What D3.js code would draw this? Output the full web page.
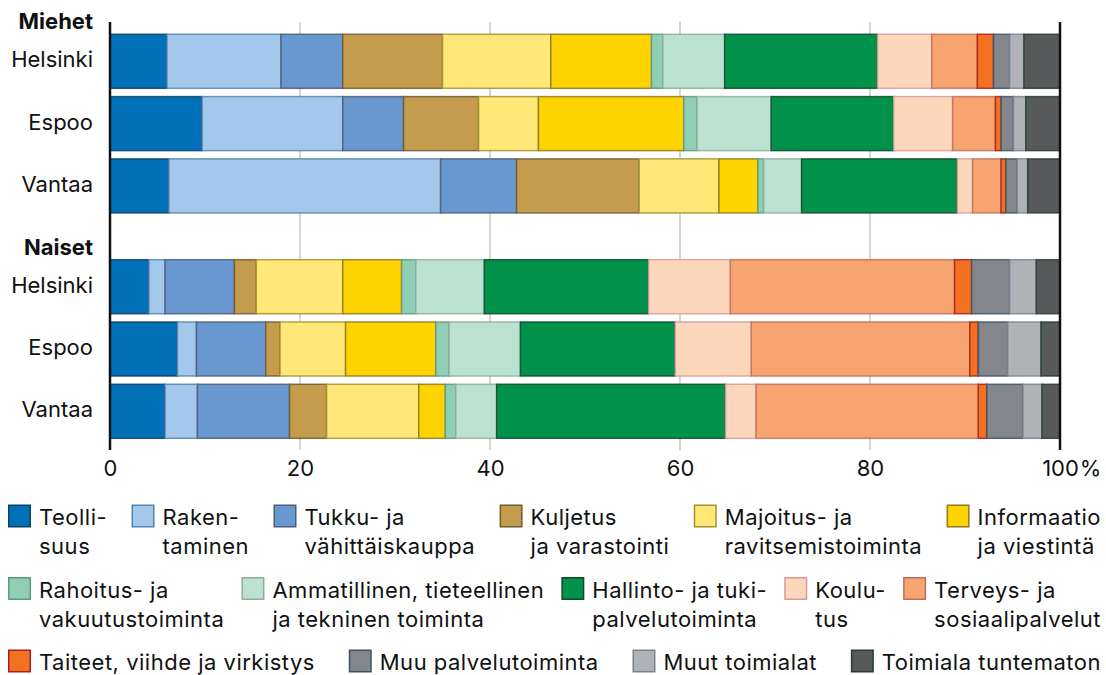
<!DOCTYPE html>
<html lang="fi">
<head>
<meta charset="utf-8">
<script src="https://cdn.jsdelivr.net/npm/d3@7"></script>
<style>
  html, body { margin: 0; padding: 0; background: #fff; }
  svg { display: block; font-family: Inter, Roboto, sans-serif; }
</style>
</head>
<body>
<svg id="chart" width="1106" height="675"></svg>
<script>
// Toimialat (industries), in stacking order
const categories = [
  "Teollisuus", "Rakentaminen", "Tukku- ja vähittäiskauppa", "Kuljetus ja varastointi",
  "Majoitus- ja ravitsemistoiminta", "Informaatio ja viestintä", "Rahoitus- ja vakuutustoiminta",
  "Ammatillinen, tieteellinen ja tekninen toiminta", "Hallinto- ja tukipalvelutoiminta",
  "Koulutus", "Terveys- ja sosiaalipalvelut", "Taiteet, viihde ja virkistys",
  "Muu palvelutoiminta", "Muut toimialat", "Toimiala tuntematon"
];

// Legend labels, broken into lines
const legendLines = [
  ["Teolli-", "suus"], ["Raken-", "taminen"], ["Tukku- ja", "vähittäiskauppa"],
  ["Kuljetus", "ja varastointi"], ["Majoitus- ja", "ravitsemistoiminta"], ["Informaatio", "ja viestintä"],
  ["Rahoitus- ja", "vakuutustoiminta"], ["Ammatillinen, tieteellinen", "ja tekninen toiminta"],
  ["Hallinto- ja tuki-", "palvelutoiminta"], ["Koulu-", "tus"], ["Terveys- ja", "sosiaalipalvelut"],
  ["Taiteet, viihde ja virkistys"], ["Muu palvelutoiminta"], ["Muut toimialat"], ["Toimiala tuntematon"]
];
const legendRowBreaks = [6, 11]; // legend rows start at these item indexes

const groups = ["Miehet", "Naiset"];
const cities = ["Helsinki", "Espoo", "Vantaa"];

// Shares (%) of each industry, per city
const miehetHelsinki = [6.0, 12.0, 6.5, 10.5, 11.4, 10.6, 1.2, 6.5, 16.1, 5.7, 4.8, 1.7, 1.7, 1.5, 3.8];
const miehetEspoo    = [9.7, 14.8, 6.4, 7.9, 6.3, 15.3, 1.4, 7.8, 12.9, 6.2, 4.5, 0.6, 1.3, 1.3, 3.6];
const miehetVantaa   = [6.2, 28.6, 8.0, 12.9, 8.4, 4.1, 0.6, 4.0, 16.4, 1.6, 3.0, 0.5, 1.2, 1.1, 3.4];
const naisetHelsinki = [4.1, 1.7, 7.3, 2.3, 9.1, 6.2, 1.5, 7.2, 17.3, 8.6, 23.6, 1.8, 4.0, 2.8, 2.5];
const naisetEspoo    = [7.1, 2.0, 7.3, 1.5, 6.9, 9.5, 1.4, 7.5, 16.3, 8.0, 23.0, 0.9, 3.1, 3.5, 2.0];
const naisetVantaa   = [5.8, 3.4, 9.7, 3.9, 9.7, 2.8, 1.1, 4.3, 24.1, 3.2, 23.4, 0.9, 3.8, 2.0, 1.9];

const tickValues = [0, 20, 40, 60, 80, 100];
const tickLabels = ["0", "20", "40", "60", "80", "100"];

const fills = ["#0070b9", "#a3c8eb", "#6898cf", "#c59b4e", "#ffe878", "#ffd300", "#90cfb4",
               "#bbe1d1", "#00914a", "#fdd7bc", "#f8a470", "#f37022", "#83878b", "#b0b3b6", "#58595b"];
const strokes = ["#12405e", "#5585ad", "#4c5d72", "#6e5a33", "#a39231", "#8c7a1f", "#5e9a82",
                 "#8fae9f", "#124a2a", "#d69b99", "#c0705f", "#a4221c", "#3b5466", "#76838f", "#24402e"];

const table = [
  { group: "Miehet", city: "Helsinki", values: miehetHelsinki },
  { group: "Miehet", city: "Espoo",    values: miehetEspoo },
  { group: "Miehet", city: "Vantaa",   values: miehetVantaa },
  { group: "Naiset", city: "Helsinki", values: naisetHelsinki },
  { group: "Naiset", city: "Espoo",    values: naisetEspoo },
  { group: "Naiset", city: "Vantaa",   values: naisetVantaa }
].map(r => {
  const o = { group: r.group, city: r.city };
  categories.forEach((c, i) => { o[c] = r.values[i]; });
  return o;
});

const svg = d3.select("#chart");
const FONT = 22;

const x = d3.scaleLinear().domain([0, 100]).range([110, 1060]);
const yGroup = d3.scaleBand().domain(groups).range([34.3, 438.3]).paddingInner(0.2076);
const yCity = d3.scaleBand().domain(cities).range([0, yGroup.bandwidth()]).paddingInner(0.133);
const color = d3.scaleOrdinal().domain(categories).range(fills);
const stroke = d3.scaleOrdinal().domain(categories).range(strokes);

const gridTop = 22, gridBottom = 450;

// light grid lines
svg.append("g").selectAll("line")
  .data(tickValues.filter(v => v !== 0 && v !== 100))
  .join("line")
  .attr("x1", d => x(d)).attr("x2", d => x(d))
  .attr("y1", gridTop).attr("y2", gridBottom)
  .attr("stroke", "#c9c9c9").attr("stroke-width", 1.5);

// stacked bars
const series = d3.stack().keys(categories)(table);
svg.append("g").selectAll("g")
  .data(series)
  .join("g")
  .attr("fill", d => color(d.key))
  .attr("stroke", d => stroke(d.key))
  .attr("stroke-width", 1.5)
  .attr("stroke-opacity", 0.85)
  .selectAll("rect")
  .data(d => d)
  .join("rect")
  .attr("x", d => x(d[0]))
  .attr("width", d => x(d[1]) - x(d[0]))
  .attr("y", d => yGroup(d.data.group) + yCity(d.data.city))
  .attr("height", yCity.bandwidth());

// 0 and 100 % frame lines
svg.append("g").selectAll("line")
  .data([0, 100])
  .join("line")
  .attr("x1", d => x(d)).attr("x2", d => x(d))
  .attr("y1", gridTop).attr("y2", gridBottom)
  .attr("stroke", "#111").attr("stroke-width", 2.5);

// group headings
svg.append("g").selectAll("text")
  .data(groups)
  .join("text")
  .attr("x", 93)
  .attr("y", d => yGroup(d) - 5)
  .attr("text-anchor", "end")
  .attr("font-size", FONT)
  .attr("font-weight", 700)
  .attr("fill", "#111")
  .text(d => d);

// city labels
svg.append("g").selectAll("text")
  .data(table)
  .join("text")
  .attr("x", 93)
  .attr("y", d => yGroup(d.group) + yCity(d.city) + yCity.bandwidth() / 2 + 6)
  .attr("text-anchor", "end")
  .attr("font-size", FONT)
  .attr("fill", "#111")
  .text(d => d.city);

// x axis labels
const axis = svg.append("g")
  .attr("transform", `translate(0,${gridBottom})`)
  .call(d3.axisBottom(x).tickValues(tickValues).tickSize(0).tickPadding(10)
    .tickFormat((d, i) => tickLabels[i]));
axis.select(".domain").remove();
axis.selectAll("text")
  .attr("font-size", FONT)
  .attr("font-family", "Inter, Roboto, sans-serif")
  .attr("fill", "#111");
// percent sign hangs after the last label
axis.selectAll(".tick").filter(d => d === 100).each(function () {
  const t = d3.select(this).select("text");
  const w = t.node().getComputedTextLength();
  d3.select(this).append("text")
    .attr("x", w / 2 + 1)
    .attr("y", t.attr("y"))
    .attr("dy", t.attr("dy"))
    .attr("text-anchor", "start")
    .attr("font-size", FONT)
    .attr("font-family", "Inter, Roboto, sans-serif")
    .attr("fill", "#111")
    .text("%");
});

// legend, rows justified across the full width
const legend = svg.append("g").attr("letter-spacing", 0.5);
const rowTops = [504.5, 577, 649.5];
const SW = 23, TXT_GAP = 8, LEFT = 8, RIGHT = 1101, LINE_H = 29;
const starts = [0, ...legendRowBreaks, categories.length];

// measure label widths
const measure = legend.append("text").attr("font-size", FONT);
const widths = legendLines.map(lines => d3.max(lines, l => {
  measure.text(l);
  return measure.node().getComputedTextLength();
}));
measure.remove();

for (let r = 0; r < starts.length - 1; r++) {
  const idx = d3.range(starts[r], starts[r + 1]);
  const itemW = idx.map(i => SW + TXT_GAP + widths[i]);
  const gap = (RIGHT - LEFT - d3.sum(itemW)) / (idx.length - 1);
  let cx = LEFT;
  idx.forEach((i, k) => {
    const g = legend.append("g").attr("transform", `translate(${cx},${rowTops[r]})`);
    g.append("rect")
      .attr("x", 0.75).attr("y", 0.75)
      .attr("width", SW - 1.5).attr("height", SW - 1.5)
      .attr("fill", fills[i])
      .attr("stroke", strokes[i])
      .attr("stroke-width", 1.5);
    g.selectAll("text")
      .data(legendLines[i])
      .join("text")
      .attr("x", SW + TXT_GAP)
      .attr("y", (d, j) => 20.5 + j * LINE_H)
      .attr("font-size", FONT)
      .attr("fill", "#111")
      .text(d => d);
    cx += itemW[k] + gap;
  });
}
</script>
</body>
</html>
